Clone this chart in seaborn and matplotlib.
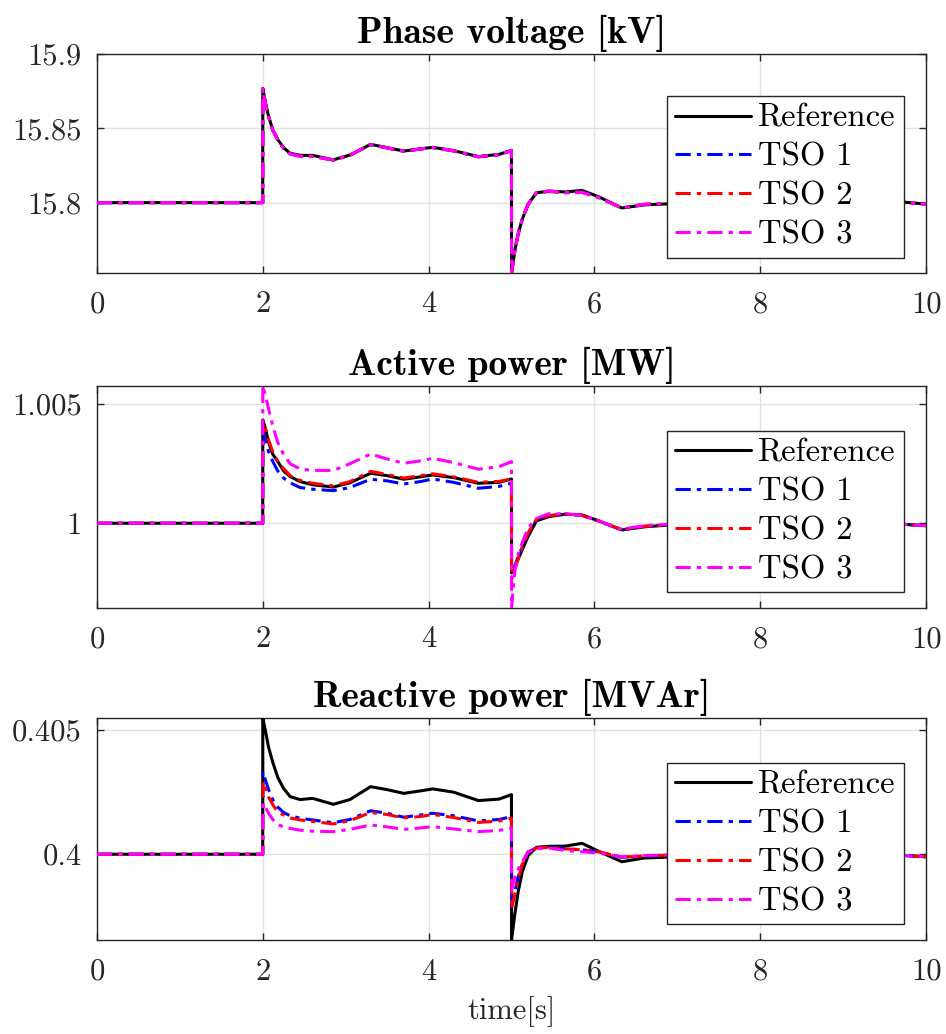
import numpy as np
import pandas as pd
import seaborn as sns
import matplotlib
matplotlib.use("Agg")
import matplotlib.pyplot as plt

# ---------------- data ----------------
T = [0, 1.999,
     2.0, 2.03, 2.07, 2.12, 2.18, 2.25, 2.33, 2.45,
     2.6, 2.85, 3.05, 3.3, 3.5, 3.7, 3.9, 4.05, 4.3, 4.6, 4.85, 4.999,
     5.0, 5.04, 5.08, 5.13, 5.2, 5.3,
     5.45, 5.65, 5.85, 6.05, 6.33, 6.6, 7.0, 7.5, 8.0, 9.0, 9.5, 10.0]

# Phase voltage [kV]
v_ref = [15.8, 15.8,
         15.8768, 15.8675, 15.858, 15.849, 15.8425, 15.837, 15.8332, 15.8318,
         15.8318, 15.8288, 15.8320, 15.8392, 15.8370, 15.8347, 15.8362, 15.8372, 15.8350, 15.8310, 15.8325, 15.8352,
         15.7527, 15.768, 15.779, 15.789, 15.799, 15.8066,
         15.8078, 15.8072, 15.8082, 15.8040, 15.7964, 15.7985, 15.7995, 15.8000, 15.8003, 15.8012, 15.8015, 15.7990]
v_tso1 = [15.8, 15.8,
          15.8765, 15.8672, 15.8578, 15.8488, 15.8422, 15.8367, 15.8329, 15.8313,
          15.8312, 15.8286, 15.8318, 15.8390, 15.8368, 15.8346, 15.8360, 15.8370, 15.8348, 15.8308, 15.8322, 15.8350,
          15.7527, 15.768, 15.779, 15.789, 15.799, 15.8066,
          15.8076, 15.8068, 15.8072, 15.8035, 15.7964, 15.7988, 15.7998, 15.8002, 15.8004, 15.8012, 15.8015, 15.7990]
v_tso2 = [15.8, 15.8,
          15.8765, 15.8672, 15.8578, 15.8488, 15.8422, 15.8367, 15.8329, 15.8313,
          15.8312, 15.8287, 15.8319, 15.8391, 15.8368, 15.8346, 15.8361, 15.8371, 15.8349, 15.8309, 15.8323, 15.8351,
          15.7527, 15.768, 15.779, 15.789, 15.799, 15.8066,
          15.8076, 15.8068, 15.8070, 15.8035, 15.7964, 15.7988, 15.7998, 15.8002, 15.8004, 15.8012, 15.8015, 15.7990]
v_tso3 = [15.8, 15.8,
          15.8765, 15.8672, 15.8578, 15.8488, 15.8420, 15.8365, 15.8327, 15.8310,
          15.8310, 15.8288, 15.8320, 15.8391, 15.8368, 15.8347, 15.8361, 15.8371, 15.8349, 15.8309, 15.8323, 15.8351,
          15.7527, 15.768, 15.779, 15.789, 15.799, 15.8068,
          15.8078, 15.8066, 15.8068, 15.8035, 15.7965, 15.7990, 15.8000, 15.8003, 15.8005, 15.8012, 15.8015, 15.7990]

# Active power [MW]
p_ref = [1.0, 1.0,
         1.00434, 1.0040, 1.0034, 1.0029, 1.0026, 1.0022, 1.00196, 1.00175,
         1.00162, 1.00152, 1.0017, 1.0021, 1.0020, 1.00185, 1.00195, 1.00203, 1.00192, 1.00168, 1.00172, 1.00186,
         0.99791, 0.9982, 0.9985, 0.9989, 0.99945, 1.0001,
         1.00028, 1.00038, 1.00035, 1.0001, 0.99972, 0.99985, 0.99995, 1.0, 1.0, 1.0, 1.0, 0.9999]
p_tso1 = [1.0, 1.0,
          1.00385, 1.0035, 1.0030, 1.0026, 1.0022, 1.0019, 1.0017, 1.0015,
          1.00143, 1.00137, 1.0015, 1.00185, 1.00178, 1.00165, 1.00175, 1.00186, 1.00172, 1.00147, 1.00155, 1.00168,
          0.9979, 0.9982, 0.9986, 0.9990, 0.99955, 1.00015,
          1.00032, 1.00038, 1.00033, 1.0001, 0.99972, 0.99987, 0.99996, 1.0, 1.0, 1.0, 1.0, 0.9999]
p_tso2 = [1.0, 1.0,
          1.0043, 1.0040, 1.0035, 1.0030, 1.0026, 1.0023, 1.0020, 1.0018,
          1.00168, 1.00157, 1.00175, 1.00218, 1.00205, 1.0019, 1.0020, 1.00208, 1.00195, 1.00172, 1.00176, 1.00186,
          0.99765, 0.9981, 0.9985, 0.9990, 0.9996, 1.00015,
          1.00032, 1.00038, 1.00033, 1.0001, 0.99972, 0.99987, 0.99996, 1.0, 1.0, 1.0, 1.0, 0.9999]
p_tso3 = [1.0, 1.0,
          1.00578, 1.0054, 1.0048, 1.0041, 1.0034, 1.0029, 1.0025, 1.00228,
          1.00222, 1.00222, 1.0025, 1.00291, 1.0027, 1.00252, 1.00262, 1.00273, 1.00255, 1.00227, 1.00238, 1.00259,
          0.99644, 0.9980, 0.9987, 0.9992, 0.9998, 1.0002,
          1.0004, 1.0004, 1.00033, 1.0001, 0.99975, 0.9999, 0.99998, 1.0, 1.0, 1.0, 1.0, 0.9999]

# Reactive power [MVAr]
q_ref = [0.4, 0.4,
         0.40547, 0.4050, 0.4043, 0.4037, 0.4031, 0.40265, 0.40232, 0.4022,
         0.40225, 0.40201, 0.4022, 0.40272, 0.4026, 0.40245, 0.40255, 0.40263, 0.4025, 0.40216, 0.40222, 0.4024,
         0.39655, 0.3976, 0.3985, 0.3993, 0.39995, 0.40028,
         0.40032, 0.40033, 0.40044, 0.40012, 0.3997, 0.39985, 0.3999, 0.3999, 0.39995, 0.4, 0.4, 0.3999]
q_tso1 = [0.4, 0.4,
          0.40332, 0.4030, 0.4026, 0.4022, 0.4019, 0.40168, 0.40155, 0.40145,
          0.40138, 0.40127, 0.4014, 0.40175, 0.40165, 0.40149, 0.40158, 0.40165, 0.40155, 0.40134, 0.4014, 0.40151,
          0.3979, 0.3985, 0.3991, 0.3996, 0.4001, 0.40025,
          0.40028, 0.40022, 0.40018, 0.4001, 0.39988, 0.39993, 0.39998, 0.39998, 0.39998, 0.4, 0.4, 0.3999]
q_tso2 = [0.4, 0.4,
          0.40292, 0.4027, 0.4023, 0.4020, 0.4017, 0.40158, 0.40146, 0.40138,
          0.40132, 0.40122, 0.40135, 0.40168, 0.4016, 0.40146, 0.40152, 0.4016, 0.40148, 0.40128, 0.40134, 0.40145,
          0.3978, 0.3984, 0.3990, 0.3996, 0.4001, 0.40025,
          0.40028, 0.40022, 0.40018, 0.4001, 0.39988, 0.39993, 0.39998, 0.39998, 0.39998, 0.4, 0.4, 0.3999]
q_tso3 = [0.4, 0.4,
          0.40205, 0.4019, 0.40165, 0.4014, 0.4012, 0.4011, 0.40104, 0.40097,
          0.40093, 0.40091, 0.4010, 0.40118, 0.4011, 0.4010, 0.40106, 0.40111, 0.40102, 0.40091, 0.40096, 0.40105,
          0.39856, 0.3991, 0.3994, 0.3997, 0.4001, 0.40022,
          0.40025, 0.40015, 0.4001, 0.40005, 0.3999, 0.39995, 0.39998, 0.39998, 0.39998, 0.4, 0.4, 0.3999]

series_names = ["Reference", "TSO 1", "TSO 2", "TSO 3"]
series_colors = ["black", "#0000ff", "#ff0000", "#ff00ff"]
titles = ["Phase voltage [kV]", "Active power [MW]", "Reactive power [MVAr]"]
panels = [[v_ref, v_tso1, v_tso2, v_tso3],
          [p_ref, p_tso1, p_tso2, p_tso3],
          [q_ref, q_tso1, q_tso2, q_tso3]]
ylims = [(15.7527, 15.9), (0.99644, 1.00578), (0.39655, 0.40547)]
yticks = [[15.8, 15.85, 15.9], [1.0, 1.005], [0.4, 0.405]]
yticklabels = [["15.8", "15.85", "15.9"], ["1", "1.005"], ["0.4", "0.405"]]
xticks = [0, 2, 4, 6, 8, 10]
xticklabels = ["0", "2", "4", "6", "8", "10"]

# ---------------- style ----------------
sns.set_theme(style="ticks")
plt.rcParams["font.family"] = ["cmr10", "DejaVu Serif"]
plt.rcParams["axes.formatter.use_mathtext"] = True
plt.rcParams["mathtext.fontset"] = "cm"

FS = 22
spine_c = "#262626"

fig = plt.figure(figsize=(9.46, 10.34), dpi=100)
rects = [(0.1025, 0.736, 0.8765, 0.2118),
         (0.1025, 0.412, 0.8765, 0.2150),
         (0.1025, 0.0909, 0.8765, 0.2144)]

dashdot = (0, (5, 2, 1.4, 2))
for i, (rect, data) in enumerate(zip(rects, panels)):
    ax = fig.add_axes(rect)
    for j, (name, col, vals) in enumerate(zip(series_names, series_colors, data)):
        df = pd.DataFrame({"t": T, "v": vals})
        ls = "-" if j == 0 else dashdot
        sns.lineplot(data=df, x="t", y="v", ax=ax, color=col, linestyle=ls,
                     linewidth=2.2, label=name, sort=False, estimator=None, zorder=3 + j)
    ax.set_xlim(0, 10)
    ax.set_ylim(*ylims[i])
    ax.set_xticks(xticks)
    ax.set_xticklabels(xticklabels)
    ax.set_yticks(yticks[i])
    ax.set_yticklabels(yticklabels[i])
    ax.set_xlabel("")
    ax.set_ylabel("")
    ax.grid(True, color="#e2e2e2", linewidth=1.0, zorder=0)
    ax.set_axisbelow(True)
    for s in ax.spines.values():
        s.set_color(spine_c)
        s.set_linewidth(1.0)
        s.set_visible(True)
    ax.tick_params(direction="in", length=5, width=1.0, color=spine_c,
                   top=True, right=True, labelsize=FS, labelcolor="#262626")
    ax.tick_params(axis="x", pad=13)
    ax.tick_params(axis="y", pad=11)
    ax.set_title(titles[i], fontsize=27, family=["cmb10", "DejaVu Serif"],
                 fontweight="bold", pad=8, color="black")
    leg = ax.legend(loc="lower right", bbox_to_anchor=(0.973, 0.07), borderaxespad=0,
                    fontsize=23.5, frameon=True, fancybox=False, framealpha=1,
                    edgecolor=spine_c, handlelength=2.35, handletextpad=0.2,
                    labelspacing=0.3, borderpad=0.25)
    leg.get_frame().set_linewidth(1.0)
    leg.set_zorder(20)
    for txt in leg.get_texts():
        txt.set_color("black")
    if i == 2:
        ax.set_xlabel("time[s]", fontsize=FS, color="#262626", labelpad=8)

fig.savefig("out.png", dpi=100)
